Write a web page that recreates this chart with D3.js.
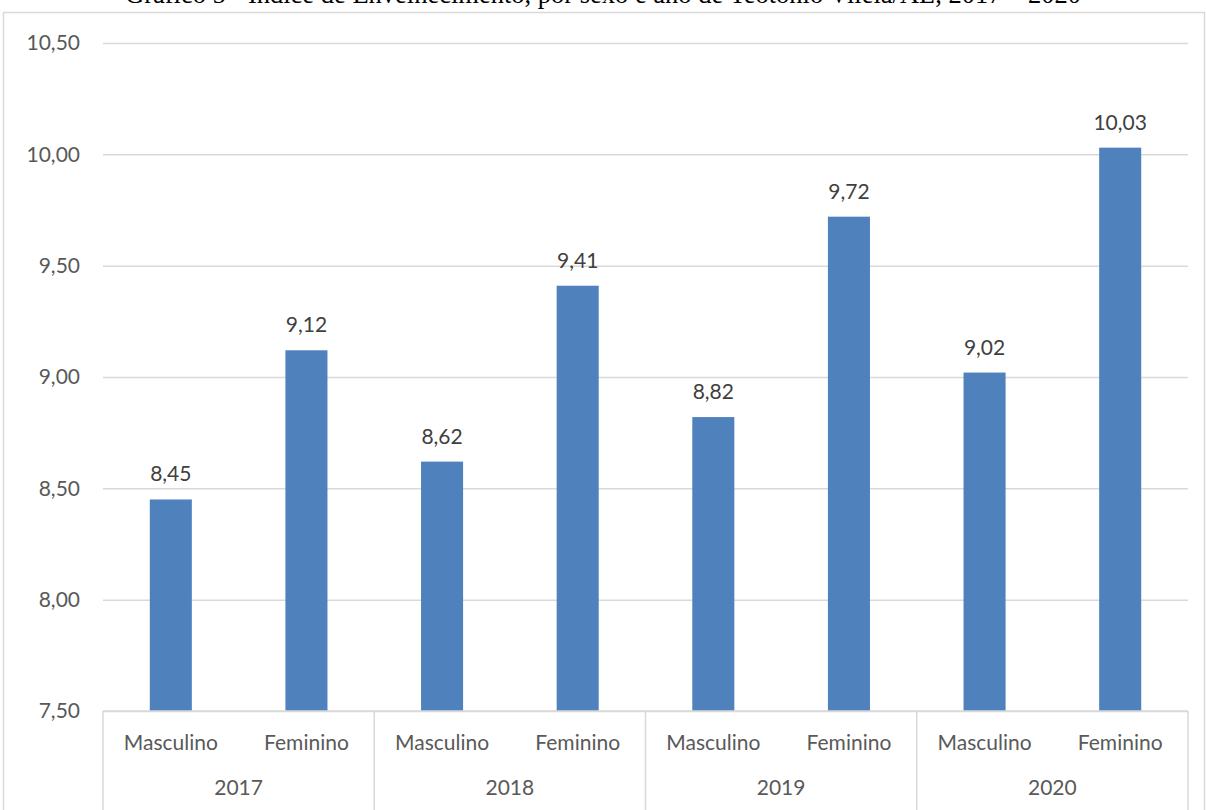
<!DOCTYPE html>
<html>
<head>
<meta charset="utf-8">
<script src="https://cdn.jsdelivr.net/npm/d3@7"></script>
<style>
  body { margin: 0; background: #fff; }
  svg { display: block; }
</style>
</head>
<body>
<svg id="chart" width="1206" height="810"></svg>
<script>
// data
let years = ["2017", "2018", "2019", "2020"];
let sexes = ["Masculino", "Feminino"];
let values = [8.45, 9.12, 8.62, 9.41, 8.82, 9.72, 9.02, 10.03];
let yTicks = [7.5, 8.0, 8.5, 9.0, 9.5, 10.0, 10.5];
let title = "Gráfico 5 - Índice de Envelhecimento, por sexo e ano de Teotônio Vilela/AL, 2017 – 2020";

let svg = d3.select("#chart");
let font = "Lato, 'Open Sans', sans-serif";
let fs = 21;
let fmt = function (v) { return d3.format(".2f")(v).replace(".", ","); };

// flat list of bars
let bars = [];
years.forEach(function (yr, i) {
    sexes.forEach(function (s, j) {
        bars.push({ key: yr + "_" + s, year: yr, sex: s, value: values[i * 2 + j] });
    });
});

let plot = { left: 103, right: 1188, top: 43, bottom: 711 };

let x = d3.scaleBand()
    .domain(bars.map(function (d) { return d.key; }))
    .range([plot.left, plot.right])
    .paddingInner(0.69)
    .paddingOuter(0.345);

let xYear = d3.scaleBand()
    .domain(years)
    .range([plot.left, plot.right]);

let y = d3.scaleLinear()
    .domain([7.5, 10.5])
    .range([plot.bottom, plot.top]);

// title (cut off at the top of the page, like the source)
svg.append("text")
    .attr("x", 603)
    .attr("y", 3)
    .attr("text-anchor", "middle")
    .attr("font-family", "'Liberation Serif', 'Times New Roman', serif")
    .attr("font-size", 26.5)
    .attr("fill", "#000")
    .text(title);

// chart frame
svg.append("rect")
    .attr("x", 3.5)
    .attr("y", 12.5)
    .attr("width", 1201)
    .attr("height", 830)
    .attr("fill", "none")
    .attr("stroke", "#d9d9d9")
    .attr("stroke-width", 1.5);

// gridlines + y labels
let yAxis = svg.append("g")
    .attr("transform", "translate(" + plot.left + ",0)")
    .call(d3.axisLeft(y).tickValues(yTicks).tickFormat(fmt).tickSize(-(plot.right - plot.left)).tickPadding(23));

yAxis.select(".domain").remove();
yAxis.selectAll(".tick line")
    .attr("stroke", "#d9d9d9")
    .attr("stroke-width", 1.5);
yAxis.selectAll(".tick text")
    .attr("font-family", font)
    .attr("font-size", fs)
    .attr("fill", "#595959");

// bars
svg.selectAll(".bar")
    .data(bars)
    .enter()
    .append("rect")
    .attr("class", "bar")
    .attr("x", function (d) { return x(d.key); })
    .attr("width", x.bandwidth())
    .attr("y", function (d) { return y(d.value); })
    .attr("height", function (d) { return y(7.5) - y(d.value); })
    .attr("fill", "#4f81bd");

// value labels
svg.selectAll(".val")
    .data(bars)
    .enter()
    .append("text")
    .attr("class", "val")
    .attr("x", function (d) { return x(d.key) + x.bandwidth() / 2; })
    .attr("y", function (d) { return y(d.value) - 18; })
    .attr("text-anchor", "middle")
    .attr("font-family", font)
    .attr("font-size", fs)
    .attr("fill", "#404040")
    .text(function (d) { return fmt(d.value); });

// category axis: baseline + group separators
let cat = svg.append("g");
cat.append("line")
    .attr("x1", plot.left).attr("x2", plot.right)
    .attr("y1", plot.bottom).attr("y2", plot.bottom)
    .attr("stroke", "#d9d9d9")
    .attr("stroke-width", 1.5);

let seps = years.map(function (yr) { return xYear(yr); }).concat([plot.right]);
cat.selectAll(".sep")
    .data(seps)
    .enter()
    .append("line")
    .attr("class", "sep")
    .attr("x1", function (d) { return d; })
    .attr("x2", function (d) { return d; })
    .attr("y1", plot.bottom)
    .attr("y2", 810)
    .attr("stroke", "#d9d9d9")
    .attr("stroke-width", 1.5);

cat.selectAll(".sexlab")
    .data(bars)
    .enter()
    .append("text")
    .attr("class", "sexlab")
    .attr("x", function (d) { return x(d.key) + x.bandwidth() / 2; })
    .attr("y", 750)
    .attr("text-anchor", "middle")
    .attr("font-family", font)
    .attr("font-size", fs)
    .attr("fill", "#595959")
    .text(function (d) { return d.sex; });

cat.selectAll(".yearlab")
    .data(years)
    .enter()
    .append("text")
    .attr("class", "yearlab")
    .attr("x", function (d) { return xYear(d) + xYear.bandwidth() / 2; })
    .attr("y", 795)
    .attr("text-anchor", "middle")
    .attr("font-family", font)
    .attr("font-size", fs)
    .attr("fill", "#595959")
    .text(function (d) { return d; });
</script>
</body>
</html>
